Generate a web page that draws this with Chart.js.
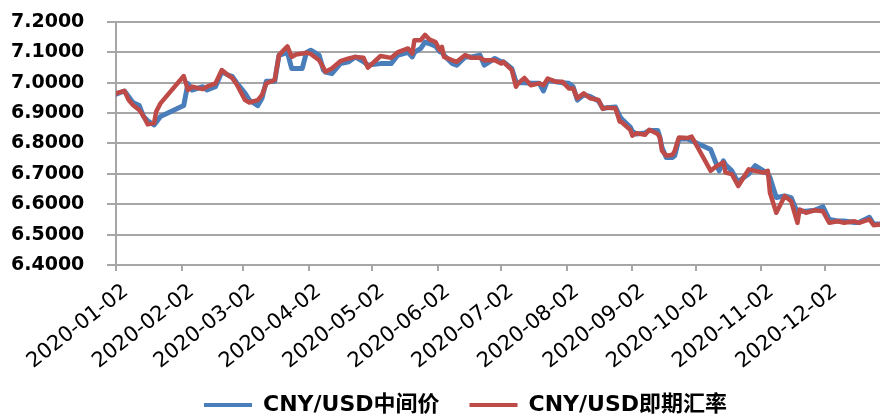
<!DOCTYPE html>
<html>
<head>
<meta charset="utf-8">
<script src="https://cdn.jsdelivr.net/npm/chart.js@4.4.0/dist/chart.umd.min.js"></script>
<style>
  html, body { margin: 0; padding: 0; background: #fff; }
  #wrap { width: 880px; height: 416px; }
</style>
</head>
<body>
<div id="wrap"><canvas id="myChart"></canvas></div>
<script>
// 날짜 (trading days)
const dates = [
  "2020-01-02", "2020-01-06", "2020-01-08", "2020-01-10", "2020-01-13", "2020-01-15", "2020-01-17",
  "2020-01-20", "2020-01-21", "2020-01-23", "2020-02-03", "2020-02-05", "2020-02-07", "2020-02-12",
  "2020-02-14", "2020-02-18", "2020-02-21", "2020-02-24", "2020-02-26", "2020-02-28", "2020-03-03",
  "2020-03-05", "2020-03-09", "2020-03-11", "2020-03-13", "2020-03-17", "2020-03-19", "2020-03-23",
  "2020-03-25", "2020-03-27", "2020-03-30", "2020-04-01", "2020-04-03", "2020-04-07", "2020-04-09",
  "2020-04-10", "2020-04-13", "2020-04-17", "2020-04-21", "2020-04-24", "2020-04-28", "2020-04-30",
  "2020-05-06", "2020-05-11", "2020-05-14", "2020-05-19", "2020-05-21", "2020-05-22", "2020-05-25",
  "2020-05-27", "2020-05-29", "2020-06-01", "2020-06-03", "2020-06-04", "2020-06-05", "2020-06-09",
  "2020-06-11", "2020-06-15", "2020-06-18", "2020-06-22", "2020-06-24", "2020-06-29", "2020-07-02",
  "2020-07-03", "2020-07-07", "2020-07-09", "2020-07-10", "2020-07-13", "2020-07-16", "2020-07-20",
  "2020-07-22", "2020-07-24", "2020-07-28", "2020-07-31", "2020-08-03", "2020-08-05", "2020-08-07",
  "2020-08-10", "2020-08-13", "2020-08-17", "2020-08-19", "2020-08-21", "2020-08-25", "2020-08-27",
  "2020-08-28", "2020-09-01", "2020-09-02", "2020-09-04", "2020-09-08", "2020-09-10", "2020-09-14",
  "2020-09-15", "2020-09-16", "2020-09-18", "2020-09-21", "2020-09-22", "2020-09-24", "2020-09-28",
  "2020-09-30", "2020-10-09", "2020-10-12", "2020-10-13", "2020-10-15", "2020-10-16", "2020-10-19",
  "2020-10-22", "2020-10-23", "2020-10-27", "2020-10-30", "2020-11-03", "2020-11-05", "2020-11-06",
  "2020-11-09", "2020-11-13", "2020-11-16", "2020-11-19", "2020-11-20", "2020-11-23", "2020-11-27",
  "2020-12-01", "2020-12-04", "2020-12-08", "2020-12-11", "2020-12-16", "2020-12-18", "2020-12-23",
  "2020-12-25", "2020-12-28",
];

// CNY/USD 중간가 (blue)
const midRate = [
  6.962, 6.973, 6.954, 6.935, 6.925, 6.889, 6.875,
  6.861, 6.870, 6.889, 6.925, 6.998, 6.976, 6.987,
  6.976, 6.987, 7.036, 7.025, 7.020, 7.000, 6.965,
  6.943, 6.925, 6.949, 7.005, 7.005, 7.090, 7.100,
  7.047, 7.047, 7.047, 7.100, 7.107, 7.091, 7.042,
  7.035, 7.030, 7.063, 7.069, 7.085, 7.069, 7.058,
  7.063, 7.063, 7.090, 7.100, 7.085, 7.100, 7.113,
  7.134, 7.129, 7.120, 7.102, 7.100, 7.090, 7.063,
  7.058, 7.085, 7.085, 7.091, 7.058, 7.080, 7.069,
  7.069, 7.047, 7.003, 7.000, 7.000, 6.998, 6.998,
  6.973, 7.009, 7.003, 7.000, 6.998, 6.987, 6.943,
  6.960, 6.955, 6.940, 6.916, 6.918, 6.920, 6.890,
  6.880, 6.854, 6.840, 6.831, 6.835, 6.843, 6.843,
  6.820, 6.787, 6.754, 6.754, 6.760, 6.815, 6.815,
  6.809, 6.780, 6.727, 6.710, 6.743, 6.730, 6.710,
  6.671, 6.680, 6.700, 6.727, 6.710, 6.700, 6.688,
  6.622, 6.627, 6.622, 6.572, 6.578, 6.577, 6.580,
  6.592, 6.550, 6.545, 6.545, 6.540, 6.540, 6.557,
  6.535, 6.535,
];

// CNY/USD 즉시환율 (red)
const spotRate = [
  6.965, 6.973, 6.943, 6.927, 6.910, 6.890, 6.863,
  6.867, 6.905, 6.932, 7.022, 6.976, 6.987, 6.979,
  6.987, 6.998, 7.042, 7.025, 7.015, 6.995, 6.943,
  6.935, 6.943, 6.960, 6.998, 7.009, 7.091, 7.120,
  7.085, 7.093, 7.096, 7.099, 7.095, 7.074, 7.050,
  7.036, 7.047, 7.071, 7.080, 7.085, 7.082, 7.050,
  7.088, 7.082, 7.100, 7.113, 7.096, 7.140, 7.140,
  7.158, 7.143, 7.134, 7.107, 7.118, 7.085, 7.074,
  7.069, 7.091, 7.082, 7.082, 7.074, 7.074, 7.063,
  7.069, 7.042, 6.987, 6.998, 7.016, 6.992, 6.998,
  6.992, 7.014, 7.003, 7.003, 6.981, 6.981, 6.949,
  6.965, 6.949, 6.943, 6.914, 6.918, 6.916, 6.872,
  6.870, 6.845, 6.826, 6.834, 6.829, 6.845, 6.831,
  6.820, 6.776, 6.760, 6.763, 6.776, 6.820, 6.818,
  6.823, 6.710, 6.727, 6.730, 6.738, 6.704, 6.699,
  6.660, 6.671, 6.715, 6.710, 6.704, 6.710, 6.638,
  6.572, 6.627, 6.610, 6.539, 6.583, 6.572, 6.580,
  6.577, 6.539, 6.544, 6.539, 6.544, 6.539, 6.550,
  6.531, 6.533,
];

const tickDates = [
  "2020-01-02", "2020-02-02", "2020-03-02", "2020-04-02", "2020-05-02", "2020-06-02",
  "2020-07-02", "2020-08-02", "2020-09-02", "2020-10-02", "2020-11-02", "2020-12-02",
];
const seriesNames = ["CNY/USD中间价", "CNY/USD即期汇率"];
const yMin = 6.4, yMax = 7.2, yStep = 0.1;

////////////
const dayNo = (s) => (Date.parse(s) - Date.parse(dates[0])) / 86400000;
const tickDays = tickDates.map(dayNo);
const toPoints = (arr) => arr.map((v, i) => ({ x: dayNo(dates[i]), y: v }));

const gridGray = "#a6a6a6";
const ctx = document.getElementById("myChart").getContext("2d");

// move the legend a bit (right / down) like the original
const legendShift = {
  id: "legendShift",
  afterLayout(chart) {
    const lg = chart.legend;
    const dx = 20;
    const dy = 364 - lg.top;
    lg.left += dx;
    lg.right += dx;
    lg.top += dy;
    lg.bottom += dy;
  },
};

// slanted date labels under the x axis (placed with the x scale)
const xLabels = {
  id: "xLabels",
  afterDraw(chart) {
    const sx = chart.scales.x;
    const c = chart.ctx;
    c.save();
    c.font = "21px 'DejaVu Sans'";
    c.fillStyle = "#000";
    c.textAlign = "right";
    c.textBaseline = "middle";
    tickDates.forEach((d, i) => {
      const px = sx.getPixelForValue(tickDays[i]);
      c.save();
      c.translate(px + 10, sx.top + 24);
      c.rotate((-38 * Math.PI) / 180);
      c.fillText(d, 0, 0);
      c.restore();
    });
    c.restore();
  },
};

const lineChart = new Chart(ctx, {
  type: "line",
  data: {
    datasets: [
      {
        label: seriesNames[0],
        data: toPoints(midRate),
        borderColor: "#4a7ebb",
        backgroundColor: "#4a7ebb",
        borderWidth: 5,
        pointRadius: 0,
        tension: 0,
        borderJoinStyle: "round",
        borderCapStyle: "round",
        order: 1,
      },
      {
        label: seriesNames[1],
        data: toPoints(spotRate),
        borderColor: "#be4b48",
        backgroundColor: "#be4b48",
        borderWidth: 4.5,
        pointRadius: 0,
        tension: 0,
        borderJoinStyle: "round",
        borderCapStyle: "round",
        order: 0,
      },
    ],
  },
  options: {
    responsive: true,
    maintainAspectRatio: false,
    animation: false,
    layout: { padding: { top: 22, right: 0, left: 11, bottom: 0 } },
    scales: {
      x: {
        type: "linear",
        min: 0,
        max: dayNo("2020-12-28"),
        afterBuildTicks: (axis) => {
          axis.ticks = tickDays.map((v) => ({ value: v }));
        },
        afterFit: (axis) => {
          axis.height = 89;
        },
        grid: { drawOnChartArea: false, drawTicks: true, tickLength: 6, color: gridGray, lineWidth: 2 },
        border: { display: true, color: gridGray, width: 2 },
        ticks: { display: false, autoSkip: false },
      },
      y: {
        min: yMin,
        max: yMax,
        afterFit: (axis) => {
          axis.width = 105;
        },
        grid: { color: gridGray, lineWidth: 2, tickLength: 9, drawTicks: true },
        border: { display: true, color: gridGray, width: 2 },
        ticks: {
          stepSize: yStep,
          padding: 3,
          crossAlign: "far",
          color: "#000",
          font: { family: "'DejaVu Sans'", size: 19, weight: "bold" },
          callback: (v) => v.toFixed(4),
        },
      },
    },
    plugins: {
      tooltip: { enabled: false },
      legend: {
        display: true,
        position: "bottom",
        labels: {
          boxWidth: 48,
          boxHeight: 4,
          padding: 30,
          color: "#000",
          font: { family: "'DejaVu Sans', 'Noto Sans CJK SC'", size: 22, weight: "bold" },
          sort: (a, b) => a.datasetIndex - b.datasetIndex,
          generateLabels: (chart) =>
            Chart.defaults.plugins.legend.labels.generateLabels(chart).map((it) => ({ ...it, lineWidth: 0 })),
        },
      },
    },
  },
  plugins: [legendShift, xLabels],
});
</script>
</body>
</html>
